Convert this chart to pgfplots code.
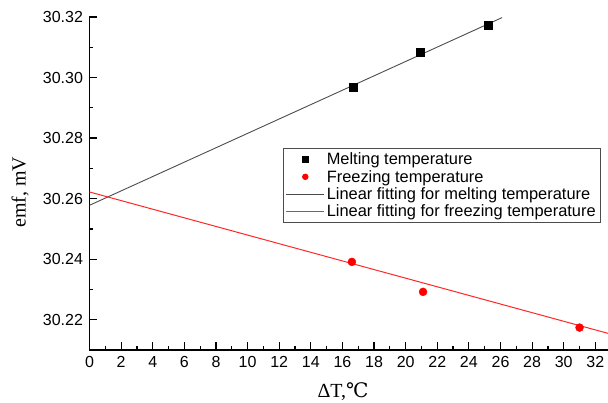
\documentclass[border=0pt]{standalone}
\usepackage{fontspec}
\setmainfont{Liberation Sans}
\newfontfamily\timesfont{Liberation Serif}
\newfontfamily\symfont{DejaVu Serif}
\usepackage{pgfplots}
\pgfplotsset{compat=1.18}
\definecolor{fitred}{RGB}{255,40,40}
\begin{document}
\begin{tikzpicture}
\begin{axis}[
    scale only axis,
    width=518.5pt, height=333pt,
    xmin=0, xmax=32.8, ymin=30.21, ymax=30.32,
    axis x line*=bottom, axis y line*=left,
    axis line style={line width=1.5pt, -},
    xtick={0,2,...,32},
    ytick={30.22,30.24,30.26,30.28,30.30,30.32},
    minor x tick num=1, minor y tick num=1,
    tick align=inside,
    major tick length=8pt, minor tick length=4pt,
    every tick/.style={black, line width=1.2pt},
    ticklabel style={font=\fontsize{16}{18}\selectfont},
    /pgf/number format/assume math mode=true,
    y tick label style={xshift=-3pt, /pgf/number format/.cd, fixed, fixed zerofill, precision=2},
    x tick label style={yshift=-3pt},
    xlabel={\timesfont ΔT,{\symfont ℃}},
    ylabel={\timesfont emf, mV},
    label style={font=\fontsize{20}{24}\selectfont},
    xlabel style={at={(axis description cs:0.489,-0.126)}, anchor=center},
    ylabel style={at={(axis description cs:-0.134,0.474)}, anchor=center},
    legend cell align=left,
    legend style={at={(0.373,0.607)}, anchor=north west, draw=black!70,
        line width=0.8pt, font=\fontsize{16.4}{18.5}\selectfont,
        row sep=0pt, inner sep=2.5pt},
]
\addplot[only marks, mark=square*, mark size=4pt, black, forget plot]
    coordinates {(16.7,30.2967) (20.9,30.3085) (25.2,30.3172)};
\addplot[only marks, mark=*, mark size=4pt, red, forget plot]
    coordinates {(16.6,30.2391) (21.1,30.2292) (31.0,30.2174)};
\addplot[black!70, line width=0.9pt, no marks, forget plot]
    coordinates {(0,30.2578) (26.1,30.3198)};
\addplot[fitred, line width=1pt, no marks, forget plot]
    coordinates {(0,30.2622) (32.8,30.2155)};
\addlegendimage{legend image code/.code={\fill[black] (19pt,0pt) +(-2.8pt,-2.8pt) rectangle +(2.8pt,2.8pt);}}
\addlegendimage{legend image code/.code={\fill[red] (19pt,0pt) circle (2.8pt);}}
\addlegendimage{legend image code/.code={\draw[black!70, line width=1pt] (0pt,0pt) -- (38pt,0pt);}}
\addlegendimage{legend image code/.code={\draw[fitred, line width=1pt] (0pt,0pt) -- (38pt,0pt);}}
\legend{Melting temperature, Freezing temperature,
    Linear fitting for melting temperature,
    Linear fitting for freezing temperature}
\coordinate (sw) at (rel axis cs:0,0);
\coordinate (ne) at (rel axis cs:1,1);
\end{axis}
\pgfresetboundingbox
\path[use as bounding box] ([xshift=-89.5pt,yshift=-53pt]sw) rectangle ([yshift=17pt]ne);
\end{tikzpicture}
\end{document}
